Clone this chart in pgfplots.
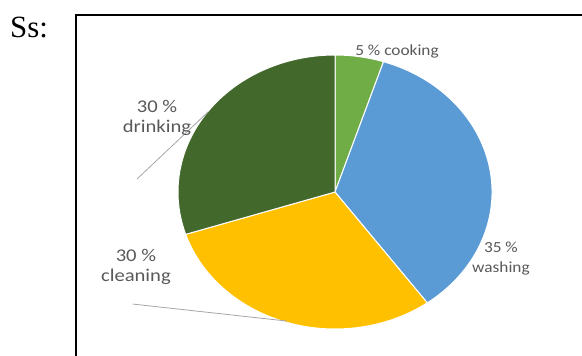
\documentclass[border=0pt]{standalone}
\usepackage{pgfplots}
\pgfplotsset{compat=1.18}
\usepackage{pgfplotstable}
\usepackage{fontspec}
\setmainfont{Carlito}
\newfontfamily\seriffont{Liberation Serif}
\newfontfamily\lbig{Carlito}[FakeStretch=1.15]
\newfontfamily\lsmall{Carlito}[FakeStretch=1.12]
\definecolor{cook}{HTML}{70AD47}
\definecolor{wash}{HTML}{5B9BD5}
\definecolor{clean}{HTML}{FFC000}
\definecolor{drink}{HTML}{43682B}
\definecolor{txt}{HTML}{595959}
\definecolor{lead}{HTML}{A6A6A6}

\pgfplotstableread{
label value col
cooking 5 cook
washing 35 wash
cleaning 30 clean
drinking 30 drink
}\piedata

\begin{document}
\begin{tikzpicture}
\useasboundingbox (0,0) rectangle (582bp,-356bp);
\node[anchor=base west, inner sep=0pt, font=\seriffont\fontsize{31}{31}\selectfont] at (10bp,-37bp) {Ss:};
\draw[line width=2bp] (76bp,-400bp) -- (76bp,-15bp) -- (620bp,-15bp);
\begin{axis}[at={(335bp,-192bp)}, anchor=center, hide axis,
  x=157bp, y=137bp, xmin=-1, xmax=1, ymin=-1, ymax=1, clip=false]
\def\cum{0}
\pgfplotsforeachungrouped \i in {0,...,3}{%
  \pgfplotstablegetelem{\i}{value}\of\piedata \let\sliceval\pgfplotsretval
  \pgfplotstablegetelem{\i}{col}\of\piedata \let\slicecol\pgfplotsretval
  \pgfmathsetmacro\sa{90-3.6*\cum}%
  \pgfmathsetmacro\sb{90-3.6*(\cum+\sliceval)}%
  \edef\temp{\noexpand\fill[\slicecol, draw=white, line width=1bp] (axis cs:0,0) -- (axis cs:{cos(\sa)},{sin(\sa)}) arc[start angle=\sa, end angle=\sb, x radius=157bp, y radius=137bp] -- cycle;}%
  \temp
  \pgfmathsetmacro\cum{\cum+\sliceval}%
}
\draw[lead, line width=0.8bp] (axis cs:-1.261,0.095) -- (axis cs:-0.809,0.584);
\draw[lead, line width=0.8bp] (axis cs:-1.287,-0.818) -- (axis cs:-0.306,-0.942);
\node[anchor=base, txt, inner sep=0pt, font=\lsmall\fontsize{15.5}{15.5}\selectfont] at (axis cs:0.395,1.0) {5 \% cooking};
\node[anchor=base, txt, inner sep=0pt, font=\lsmall\fontsize{15.5}{15.5}\selectfont] at (axis cs:1.057,-0.445) {35 \%};
\node[anchor=base, txt, inner sep=0pt, font=\lsmall\fontsize{15.5}{15.5}\selectfont] at (axis cs:1.057,-0.584) {washing};
\node[anchor=base, txt, inner sep=0pt, font=\lbig\fontsize{18}{18}\selectfont] at (axis cs:-1.134,0.577) {30 \%};
\node[anchor=base, txt, inner sep=0pt, font=\lbig\fontsize{18}{18}\selectfont] at (axis cs:-1.134,0.431) {drinking};
\node[anchor=base, txt, inner sep=0pt, font=\lbig\fontsize{18}{18}\selectfont] at (axis cs:-1.268,-0.504) {30 \%};
\node[anchor=base, txt, inner sep=0pt, font=\lbig\fontsize{18}{18}\selectfont] at (axis cs:-1.268,-0.650) {cleaning};
\end{axis}
\end{tikzpicture}
\end{document}
